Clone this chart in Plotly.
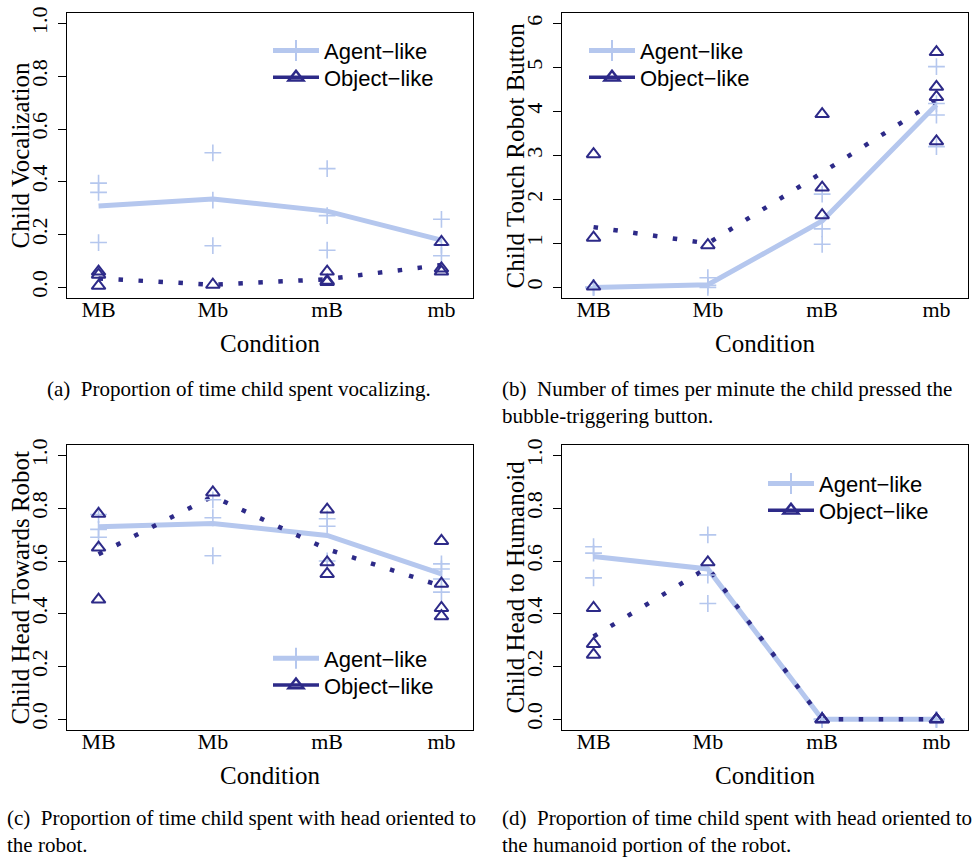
import plotly.graph_objects as go

# ---------------- data ----------------
conditions = ["MB", "Mb", "mB", "mb"]

# (a) Child Vocalization
voc_agent_mean = [0.308, 0.335, 0.289, 0.179]
voc_object_mean = [0.034, 0.010, 0.031, 0.085]
voc_agent_pts = [[0.395, 0.36, 0.17], [0.51, 0.331, 0.158], [0.45, 0.272, 0.141], [0.258, 0.12, 0.16]]
voc_object_pts = [[0.06, 0.048, 0.006], [0.01], [0.06, 0.025, 0.02], [0.172, 0.072, 0.06]]

# (b) Child Touch Robot Button
touch_agent_mean = [0.0, 0.06, 1.51, 4.15]
touch_object_mean = [1.37, 1.0, 2.61, 4.25]
touch_agent_pts = [[0.0, 0.0, 0.0], [0.22, 0.05, 0.0], [2.12, 1.33, 0.98], [5.02, 4.18, 3.92, 3.2]]
touch_object_pts = [[3.03, 1.13, 0.02], [0.96], [3.94, 2.27, 1.64], [5.35, 4.56, 4.33, 3.32]]

# (c) Child Head Towards Robot
robot_agent_mean = [0.73, 0.742, 0.697, 0.551]
robot_object_mean = [0.626, 0.845, 0.645, 0.505]
robot_agent_pts = [[0.776, 0.72, 0.69], [0.832, 0.764, 0.62], [0.76, 0.732, 0.6], [0.589, 0.57, 0.532, 0.482]]
robot_object_pts = [[0.779, 0.651, 0.454], [0.86], [0.795, 0.595, 0.551], [0.676, 0.514, 0.422, 0.391]]

# (d) Child Head to Humanoid
hum_agent_mean = [0.617, 0.57, 0.0, 0.0]
hum_object_mean = [0.314, 0.575, 0.0, 0.0]
hum_agent_pts = [[0.654, 0.63, 0.536], [0.699, 0.547, 0.439], [0.0, 0.0, 0.0], [0.0, 0.0, 0.0]]
hum_object_pts = [[0.422, 0.286, 0.245], [0.595], [0.0, 0.0, 0.0], [0.0, 0.0, 0.0]]

y_titles = ["Child Vocalization", "Child Touch Robot Button",
            "Child Head Towards Robot", "Child Head to Humanoid"]
x_title = "Condition"
legend_names = ["Agent\u2212like", "Object\u2212like"]
captions = [
    "(a)  Proportion of time child spent vocalizing.",
    "(b)  Number of times per minute the child pressed the<br>bubble-triggering button.",
    "(c)  Proportion of time child spent with head oriented to<br>the robot.",
    "(d)  Proportion of time child spent with head oriented to<br>the humanoid portion of the robot.",
]

# ---------------- styling ----------------
W, H = 974, 857
AGENT = "#b5c7ee"
OBJECT = "#2d2a88"
SERIF = "Liberation Serif"
SANS = "Liberation Sans"


def px_x(p):
    return p / W


def px_y(p):
    return 1 - p / H


panels = [
    dict(am=voc_agent_mean, om=voc_object_mean, ap=voc_agent_pts, op=voc_object_pts,
         yr=[-0.04, 1.04], yt=[0, 0.2, 0.4, 0.6, 0.8, 1.0], ytt=["0.0", "0.2", "0.4", "0.6", "0.8", "1.0"],
         box=(67, 473, 7, 294), leg=(268, 45)),
    dict(am=touch_agent_mean, om=touch_object_mean, ap=touch_agent_pts, op=touch_object_pts,
         yr=[-0.24, 6.24], yt=[0, 1, 2, 3, 4, 5, 6], ytt=["0", "1", "2", "3", "4", "5", "6"],
         box=(562, 968, 7, 294), leg=(584, 45)),
    dict(am=robot_agent_mean, om=robot_object_mean, ap=robot_agent_pts, op=robot_object_pts,
         yr=[-0.04, 1.04], yt=[0, 0.2, 0.4, 0.6, 0.8, 1.0], ytt=["0.0", "0.2", "0.4", "0.6", "0.8", "1.0"],
         box=(67, 473, 442, 729), leg=(268, 657)),
    dict(am=hum_agent_mean, om=hum_object_mean, ap=hum_agent_pts, op=hum_object_pts,
         yr=[-0.04, 1.04], yt=[0, 0.2, 0.4, 0.6, 0.8, 1.0], ytt=["0.0", "0.2", "0.4", "0.6", "0.8", "1.0"],
         box=(562, 968, 442, 729), leg=(763, 481)),
]

xpos = list(range(1, len(conditions) + 1))
fig = go.Figure()
annotations = []
ROW = 27

for i, p in enumerate(panels):
    n = "" if i == 0 else str(i + 1)
    xa, ya = "x" + n, "y" + n
    lg_a = "legend" if i == 0 else "legend" + str(2 * i + 1)
    lg_o = "legend" + str(2 * i + 2)

    # mean lines
    fig.add_trace(go.Scatter(x=xpos, y=p["am"], mode="lines", xaxis=xa, yaxis=ya,
                             line=dict(color=AGENT, width=5), showlegend=False, hoverinfo="skip"))
    fig.add_trace(go.Scatter(x=xpos, y=p["om"], mode="lines", xaxis=xa, yaxis=ya,
                             line=dict(color=OBJECT, width=4.5, dash="4.5px,15.5px"),
                             showlegend=False, hoverinfo="skip"))
    # individual points
    axp, ayp = [], []
    for k, vals in enumerate(p["ap"]):
        for v in vals:
            axp.append(xpos[k]); ayp.append(v)
    oxp, oyp = [], []
    for k, vals in enumerate(p["op"]):
        for v in vals:
            oxp.append(xpos[k]); oyp.append(v)
    fig.add_trace(go.Scatter(x=axp, y=ayp, mode="markers", xaxis=xa, yaxis=ya,
                             marker=dict(symbol="cross-thin-open", size=12, color=AGENT,
                                         line=dict(color=AGENT, width=1.6)),
                             showlegend=False))
    fig.add_trace(go.Scatter(x=oxp, y=oyp, mode="markers", xaxis=xa, yaxis=ya,
                             marker=dict(symbol="triangle-up-open", size=12, color=OBJECT,
                                         line=dict(color=OBJECT, width=2)),
                             showlegend=False))
    # legend entries
    fig.add_trace(go.Scatter(x=[None], y=[None], mode="lines+markers", xaxis=xa, yaxis=ya,
                             name=legend_names[0], legend=lg_a,
                             line=dict(color=AGENT, width=5),
                             marker=dict(symbol="cross-thin-open", size=15, color=AGENT,
                                         line=dict(color=AGENT, width=2))))
    fig.add_trace(go.Scatter(x=[None], y=[None], mode="lines+markers", xaxis=xa, yaxis=ya,
                             name=legend_names[1], legend=lg_o,
                             line=dict(color=OBJECT, width=3.5),
                             marker=dict(symbol="triangle-up-open", size=13, color=OBJECT,
                                         line=dict(color=OBJECT, width=2.5))))

    x0, x1, y0, y1 = p["box"]
    fig.layout["xaxis" + n] = dict(
        domain=[px_x(x0), px_x(x1)], range=[0.724, 4.276], anchor=ya,
        tickvals=xpos, ticktext=conditions, ticks="", showgrid=False, zeroline=False,
        showline=True, mirror=True, linecolor="black", linewidth=1,
        tickfont=dict(family=SERIF, size=22, color="black"), ticklabelstandoff=-8)
    fig.layout["yaxis" + n] = dict(
        domain=[px_y(y1), px_y(y0)], range=p["yr"], anchor=xa,
        tickvals=p["yt"], ticktext=p["ytt"], ticks="outside", ticklen=8, tickwidth=1,
        tickcolor="black", tickangle=-90, showgrid=False, zeroline=False,
        showline=True, mirror=True, linecolor="black", linewidth=1,
        tickfont=dict(family=SERIF, size=22, color="black"), ticklabelstandoff=2)
    for j, lg in enumerate((lg_a, lg_o)):
        fig.layout[lg] = dict(
            x=px_x(p["leg"][0]), y=px_y(p["leg"][1] + j * ROW), xanchor="left", yanchor="middle",
            bgcolor="rgba(0,0,0,0)", borderwidth=0, itemwidth=46,
            font=dict(family=SANS, size=22, color="black"))

    # axis titles
    annotations.append(dict(text=x_title, xref="paper", yref="paper",
                            x=px_x((x0 + x1) / 2), y=px_y(y1 + 46), xanchor="center", yanchor="middle",
                            showarrow=False, font=dict(family=SERIF, size=25, color="black")))
    annotations.append(dict(text=y_titles[i], xref="paper", yref="paper", textangle=-90,
                            x=px_x(x0 - 47), y=px_y((y0 + y1) / 2), xanchor="center", yanchor="middle",
                            showarrow=False, font=dict(family=SERIF, size=25, color="black")))

cap_pos = [(45, 372), (500, 372), (5, 804), (500, 804)]
for c, (cx, cy) in zip(captions, cap_pos):
    annotations.append(dict(text=c, xref="paper", yref="paper", x=px_x(cx), y=px_y(cy),
                            xanchor="left", yanchor="top", align="left", showarrow=False,
                            font=dict(family=SERIF, size=21, color="black")))

fig.update_layout(width=W, height=H, margin=dict(l=0, r=0, t=0, b=0),
                  paper_bgcolor="white", plot_bgcolor="white",
                  annotations=annotations)

fig.write_html("out.html")
